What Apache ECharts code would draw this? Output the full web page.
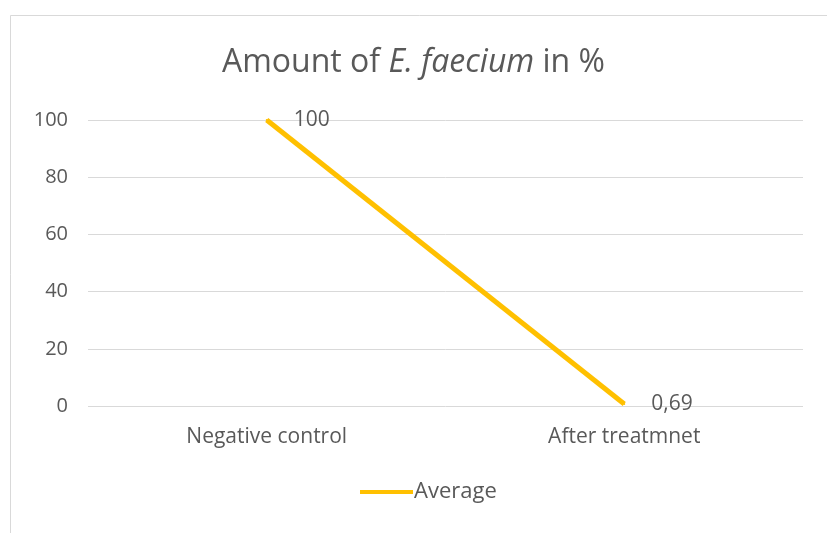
<!DOCTYPE html>
<html>
<head>
<meta charset="utf-8">
<script src="https://cdn.jsdelivr.net/npm/echarts@6/dist/echarts.min.js"></script>
<style>
  html, body { margin: 0; padding: 0; background: #fff; }
  #chart { width: 827px; height: 533px; }
</style>
</head>
<body>
<div id="chart"></div>
<script>
// data
const categories = ['Negative control', 'After treatmnet'];
const average = [100, 0.69];
const averageLabels = ['100', '0,69'];

const FONT = '"Open Sans", "Noto Sans", sans-serif';
const TXT = '#595959';

const chart = echarts.init(document.getElementById('chart'));

chart.setOption({
  backgroundColor: '#fff',
  textStyle: { fontFamily: FONT },
  graphic: [{
    type: 'rect',
    shape: { x: 10.5, y: 15.5, width: 900, height: 700 },
    style: { fill: 'none', stroke: '#d9d9d9', lineWidth: 1 },
    silent: true
  }],
  title: {
    left: 'center',
    top: 42,
    text: '{a|Amount of }{b|E. faecium}{a| in %}',
    textStyle: {
      rich: {
        a: { fontSize: 32, color: TXT, fontFamily: FONT, fontWeight: 'normal' },
        b: { fontSize: 32, color: TXT, fontFamily: FONT, fontWeight: 'normal', fontStyle: 'italic' }
      }
    }
  },
  legend: {
    bottom: 25,
    left: 355,
    itemWidth: 53,
    itemHeight: 4,
    itemGap: 10,
    icon: 'rect',
    itemStyle: { color: '#FFC000' },
    textStyle: { fontSize: 22, color: TXT, fontFamily: FONT, padding: [0, 0, 0, -4] },
    data: ['Average']
  },
  grid: { left: 88, right: 24, top: 120, bottom: 127 },
  xAxis: {
    type: 'category',
    data: categories,
    axisLine: { show: false },
    axisTick: { show: false },
    axisLabel: { fontSize: 21, color: TXT, margin: 21, fontFamily: FONT }
  },
  yAxis: {
    type: 'value',
    min: 0,
    max: 100,
    interval: 20,
    axisLine: { show: false },
    axisTick: { show: false },
    axisLabel: { fontSize: 20, color: TXT, margin: 20, fontFamily: FONT },
    splitLine: { lineStyle: { color: '#d9d9d9', width: 1 } }
  },
  series: [{
    name: 'Average',
    type: 'line',
    data: average,
    color: '#FFC000',
    symbol: 'circle',
    symbolSize: 2,
    showSymbol: true,
    itemStyle: { color: '#FFC000' },
    lineStyle: { width: 5, color: '#FFC000' },
    label: {
      show: true,
      position: 'right',
      distance: 26,
      fontSize: 21,
      color: TXT,
      fontFamily: FONT,
      formatter: p => averageLabels[p.dataIndex]
    }
  }]
});
</script>
</body>
</html>
